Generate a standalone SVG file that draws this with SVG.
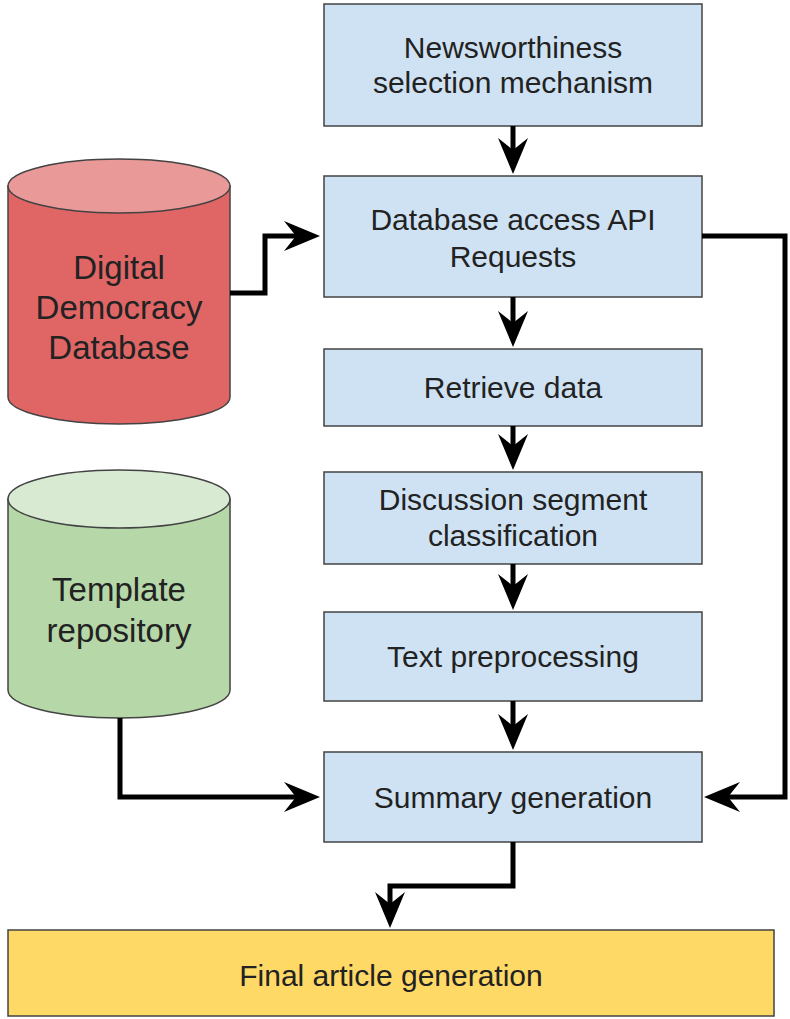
<svg xmlns="http://www.w3.org/2000/svg" width="790" height="1019" viewBox="0 0 790 1019">
<style>
.box{fill:#cfe2f3;stroke:#434343;stroke-width:1.5}
.t{font-family:"Liberation Sans",Arial,sans-serif;font-size:30px;fill:#222;text-anchor:middle}
.tc{font-size:33px}
.c{fill:none;stroke:#000;stroke-width:5;stroke-linejoin:miter}
</style>
<defs>
<marker id="ah" markerUnits="userSpaceOnUse" markerWidth="40" markerHeight="40" refX="0" refY="0" orient="auto" overflow="visible">
<path d="M20,0 L-16,-15 L-4,0 L-16,15 Z" fill="#000"/>
</marker>
</defs>
<rect width="790" height="1019" fill="#fff"/>
<g id="n1"><rect class="box" x="324" y="4" width="378" height="122"/><text class="t" x="513" y="58">Newsworthiness</text><text class="t" x="513" y="93">selection mechanism</text></g>
<g id="n2"><rect class="box" x="324" y="176" width="378" height="121"/><text class="t" x="513" y="230">Database access API</text><text class="t" x="513" y="267">Requests</text></g>
<g id="n3"><rect class="box" x="324" y="349" width="378" height="77"/><text class="t" x="513" y="398">Retrieve data</text></g>
<g id="n4"><rect class="box" x="324" y="472" width="378" height="92"/><text class="t" x="513" y="510">Discussion segment</text><text class="t" x="513" y="546">classification</text></g>
<g id="n5"><rect class="box" x="324" y="612" width="378" height="89"/><text class="t" x="513" y="667">Text preprocessing</text></g>
<g id="n6"><rect class="box" x="324" y="752" width="378" height="90"/><text class="t" x="513" y="808">Summary generation</text></g>
<g id="n7"><rect x="8" y="930" width="766" height="86" fill="#ffd966" stroke="#434343" stroke-width="1.5"/><text class="t" x="391" y="986">Final article generation</text></g>
<g id="db1"><path d="M8,186 L8,397 A111,27 0 0 0 230,397 L230,186 Z" fill="#e06666" stroke="#434343" stroke-width="1.5"/><ellipse cx="119" cy="186" rx="111" ry="27" fill="#ea9999" stroke="#434343" stroke-width="1.5"/><text class="t tc" x="119" y="279">Digital</text><text class="t tc" x="119" y="319">Democracy</text><text class="t tc" x="119" y="359">Database</text></g>
<g id="db2"><path d="M8,499 L8,690 A111,28 0 0 0 230,690 L230,499 Z" fill="#b6d7a8" stroke="#434343" stroke-width="1.5"/><ellipse cx="119" cy="499" rx="111" ry="29" fill="#d9ead3" stroke="#434343" stroke-width="1.5"/><text class="t tc" x="119" y="601">Template</text><text class="t tc" x="119" y="642">repository</text></g>
<g id="connectors">
<path class="c" marker-end="url(#ah)" d="M513,126 L513,154"/>
<path class="c" marker-end="url(#ah)" d="M513,297 L513,327"/>
<path class="c" marker-end="url(#ah)" d="M513,426 L513,450"/>
<path class="c" marker-end="url(#ah)" d="M513,564 L513,590"/>
<path class="c" marker-end="url(#ah)" d="M513,701 L513,730"/>
<path class="c" marker-end="url(#ah)" d="M230,293 L265,293 L265,236 L300,236"/>
<path class="c" marker-end="url(#ah)" d="M702,236 L785,236 L785,797 L724,797"/>
<path class="c" marker-end="url(#ah)" d="M120,718 L120,797 L300,797"/>
<path class="c" marker-end="url(#ah)" d="M513,842 L513,886 L390,886 L390,908"/>
</g>
</svg>
